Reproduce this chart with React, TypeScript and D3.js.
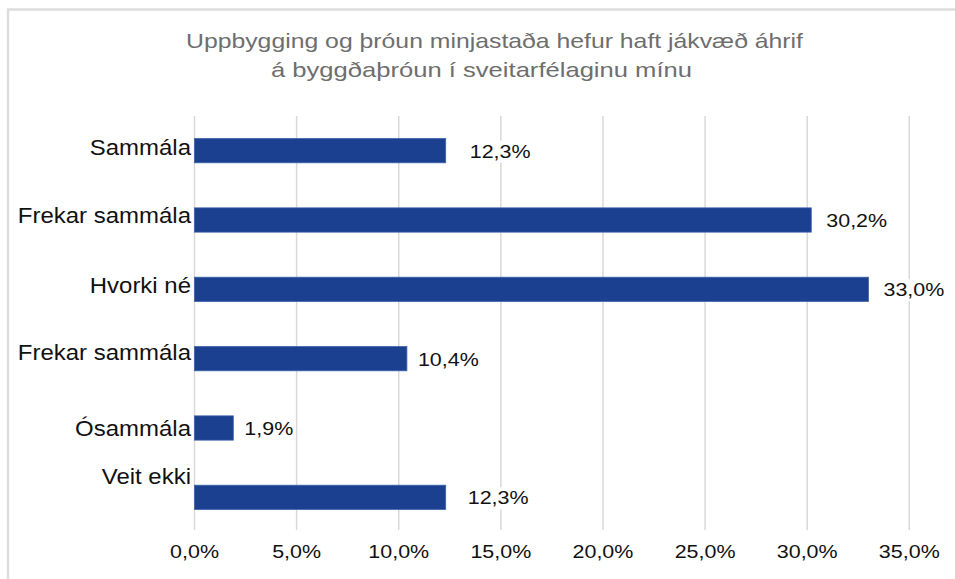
import React from "react";
import * as d3 from "d3";

const titleLines = [
  "Uppbygging og þróun minjastaða hefur haft jákvæð áhrif",
  "á byggðaþróun í sveitarfélaginu mínu",
];
const categories = [
  "Sammála",
  "Frekar sammála",
  "Hvorki né",
  "Frekar sammála",
  "Ósammála",
  "Veit ekki",
];
const values = [12.3, 30.2, 33.0, 10.4, 1.9, 12.3];
const ticks = [0, 5, 10, 15, 20, 25, 30, 35];

// layout-only nudges, as in the reference
const labelNudge = [-3, -5, -4, -6, 0, -21];
const valueGap = [24, 15, 15, 11, 11, 22];

const W = 955;
const H = 579;
const FONT = "'Liberation Sans', Arial, sans-serif";
const BAR = "#1b408f";
const GRID = "#d9d9d9";

const fmt = (v: number) => d3.format(".1f")(v).replace(".", ",") + "%";

export default function App() {
  const x = d3.scaleLinear().domain([0, 35]).range([194.5, 909.3]);
  const y = d3
    .scaleBand<number>()
    .domain(categories.map((_, i) => i))
    .range([116, 532])
    .paddingInner(0.65)
    .paddingOuter(0.325);
  const bw = y.bandwidth();

  const catS = 1.09;
  const valS = 1.13;

  return (
    <svg
      width={W}
      height={H}
      style={{ position: "absolute", left: 0, top: 0, background: "#fff" }}
      fontFamily={FONT}
    >
      <rect x={0} y={0} width={W} height={H} fill="#fff" />
      <rect
        x={8}
        y={9.5}
        width={980}
        height={620}
        fill="none"
        stroke="#dcdcdc"
        strokeWidth={2.4}
      />
      {/* title */}
      <text
        x={186}
        y={48}
        fontSize={21}
        fill="#6e6e6e"
        textLength={617}
        lengthAdjust="spacingAndGlyphs"
      >
        {titleLines[0]}
      </text>
      <text
        x={271}
        y={77}
        fontSize={21}
        fill="#6e6e6e"
        textLength={421}
        lengthAdjust="spacingAndGlyphs"
      >
        {titleLines[1]}
      </text>

      {/* gridlines */}
      {ticks.map((t) => (
        <line
          key={"g" + t}
          x1={x(t)}
          x2={x(t)}
          y1={116}
          y2={530}
          stroke={GRID}
          strokeWidth={1.5}
        />
      ))}

      {/* bars */}
      {values.map((v, i) => (
        <rect
          key={"b" + i}
          x={x(0)}
          y={y(i)!}
          width={x(v) - x(0)}
          height={bw}
          fill={BAR}
          stroke="#3f62a8"
          strokeWidth={0.8}
        />
      ))}

      {/* value labels */}
      {values.map((v, i) => {
        const cx = x(v) + valueGap[i];
        const cy = y(i)! + bw / 2 + 7;
        const w = fmt(v).length * 10.6 * valS;
        return (
          <g key={"v" + i}>
            <rect x={cx - 3} y={cy - 17} width={w + 6} height={22} fill="#fff" />
            <text
              transform={`translate(${cx},${cy}) scale(${valS},1)`}
              fontSize={19}
              fill="#111"
            >
              {fmt(v)}
            </text>
          </g>
        );
      })}

      {/* category labels */}
      {categories.map((c, i) => (
        <text
          key={"c" + i}
          transform={`translate(${191},${y(i)! + bw / 2 + 7.5 + labelNudge[i]}) scale(${catS},1)`}
          textAnchor="end"
          fontSize={22}
          fill="#111"
        >
          {c}
        </text>
      ))}

      {/* tick labels */}
      {ticks.map((t) => (
        <text
          key={"t" + t}
          transform={`translate(${x(t)},${558}) scale(${valS},1)`}
          textAnchor="middle"
          fontSize={19}
          fill="#111"
        >
          {fmt(t)}
        </text>
      ))}
    </svg>
  );
}
